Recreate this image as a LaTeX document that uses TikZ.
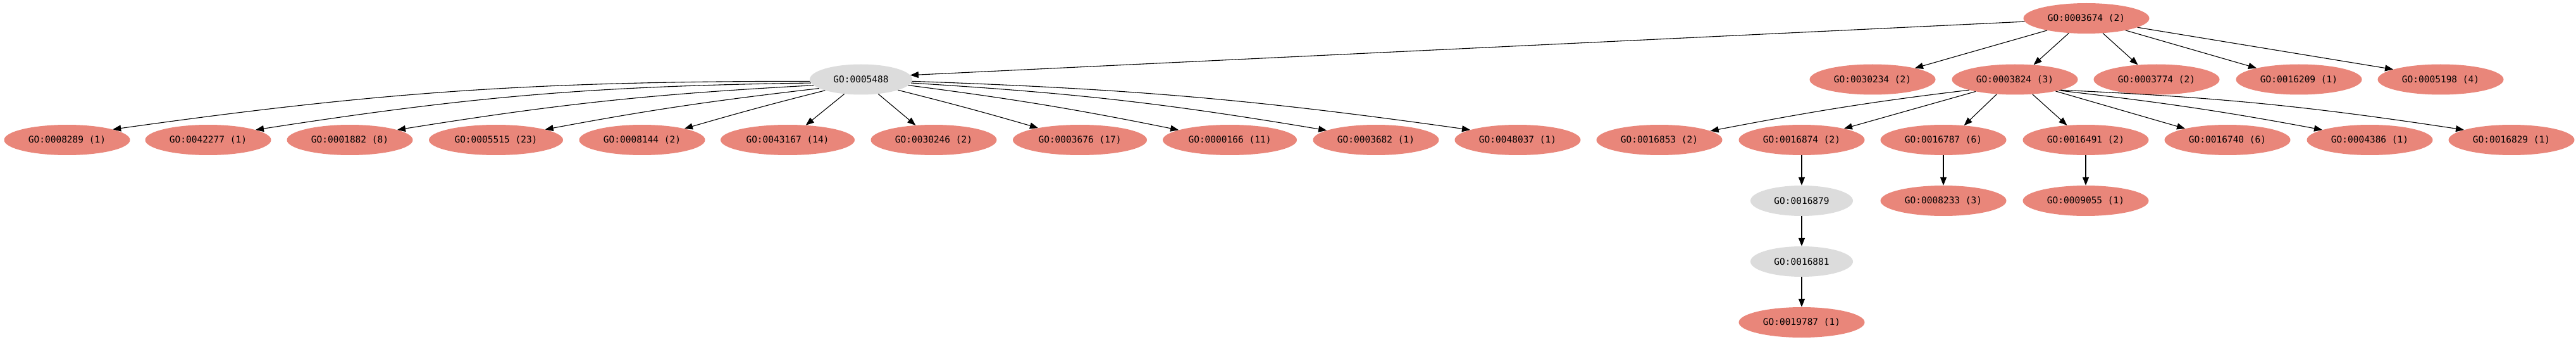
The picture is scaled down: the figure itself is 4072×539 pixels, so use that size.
\documentclass[tikz,border=0pt]{standalone}
\usepackage{fontspec}
\setmonofont{DejaVu Sans Mono}
\usetikzlibrary{shapes.geometric,arrows.meta}
\definecolor{salm}{RGB}{233,134,122}
\definecolor{gnode}{RGB}{220,220,220}
\tikzset{
  base/.style={ellipse,inner sep=0pt,minimum height=48pt,font=\ttfamily\fontsize{14.5}{16}\selectfont,text=black},
  term/.style={base,fill=salm,minimum width=199pt},
  termw/.style={base,fill=salm,minimum width=212pt},
  mid/.style={base,fill=gnode,minimum width=162pt},
  edge/.style={draw=black,line width=1.1pt,-{Triangle[length=13pt,width=10pt]}}
}
\begin{document}
\begin{tikzpicture}[x=1pt,y=1pt]
\useasboundingbox (0,0) rectangle (4072,539);
% row 0
\node[term] (r3674) at (3298,510) {GO:0003674 (2)};
% row 1
\node[mid]  (n5488) at (1361,413.5) {GO:0005488};
\node[term] (n0234) at (2960,413.5) {GO:0030234 (2)};
\node[term] (n3824) at (3185,413.5) {GO:0003824 (3)};
\node[term] (n3774) at (3409,413.5) {GO:0003774 (2)};
\node[term] (n6209) at (3634,413.5) {GO:0016209 (1)};
\node[term] (n5198) at (3858,413.5) {GO:0005198 (4)};
% row 2
\node[term]  (n8289) at (106,318) {GO:0008289 (1)};
\node[term]  (n2277) at (329,318) {GO:0042277 (1)};
\node[term]  (n1882) at (553,318) {GO:0001882 (8)};
\node[termw] (n5515) at (784,318) {GO:0005515 (23)};
\node[term]  (n8144) at (1015,318) {GO:0008144 (2)};
\node[termw] (n3167) at (1245,318) {GO:0043167 (14)};
\node[term]  (n0246) at (1476,318) {GO:0030246 (2)};
\node[termw] (n3676) at (1707,318) {GO:0003676 (17)};
\node[termw] (n0166) at (1944,318) {GO:0000166 (11)};
\node[term]  (n3682) at (2175,318) {GO:0003682 (1)};
\node[term]  (n8037) at (2399,318) {GO:0048037 (1)};
\node[term]  (n6853) at (2623,318) {GO:0016853 (2)};
\node[term]  (n6874) at (2848,318) {GO:0016874 (2)};
\node[term]  (n6787) at (3072,318) {GO:0016787 (6)};
\node[term]  (n6491) at (3297,318) {GO:0016491 (2)};
\node[term]  (n6740) at (3521,318) {GO:0016740 (6)};
\node[term]  (n4386) at (3746,318) {GO:0004386 (1)};
\node[term]  (n6829) at (3970,318) {GO:0016829 (1)};
% row 3
\node[mid]  (g6879) at (2848,222) {GO:0016879};
\node[term] (n8233) at (3072,222) {GO:0008233 (3)};
\node[term] (n9055) at (3297,222) {GO:0009055 (1)};
% row 4
\node[mid]  (g6881) at (2848,126) {GO:0016881};
% row 5
\node[term] (n9787) at (2848,30) {GO:0019787 (1)};

% edges from root
\draw[edge] (r3674.183) -- (n5488.5);
\draw[edge] (r3674.197) -- (n0234.15);
\draw[edge] (r3674.220) -- (n3824.38);
\draw[edge] (r3674.318) -- (n3774.142);
\draw[edge] (r3674.343) -- (n6209.165);
\draw[edge] (r3674.350) -- (n5198.168);
% edges from GO:0005488
\draw[edge] (n5488.182) .. controls +(180:432) and +(8:432) .. (n8289.13);
\draw[edge] (n5488.184) .. controls +(180.8:346) and +(8.8:346) .. (n2277.12);
\draw[edge] (n5488.187) .. controls +(183.1:259) and +(9.1:259) .. (n1882.12);
\draw[edge] (n5488.192) .. controls +(186.6:170) and +(10.6:170) .. (n5515.12);
\draw[edge] (n5488.197) .. controls +(194.1:90) and +(16.1:90) .. (n8144.15);
\draw[edge] (n5488.221) -- (n3167.39);
\draw[edge] (n5488.320) -- (n0246.141);
\draw[edge] (n5488.344) .. controls +(345.9:90) and +(163.9:90) .. (n3676.164);
\draw[edge] (n5488.353) .. controls +(352.6:169) and +(168.6:169) .. (n0166.169);
\draw[edge] (n5488.356) .. controls +(356.5:260) and +(170.5:260) .. (n3682.169);
\draw[edge] (n5488.358) .. controls +(358:347) and +(172:347) .. (n8037.168);
% edges from GO:0003824
\draw[edge] (n3824.193) .. controls +(186.8:161) and +(10.8:161) .. (n6853.10);
\draw[edge] (n3824.197) -- (n6874.15);
\draw[edge] (n3824.219) -- (n6787.35);
\draw[edge] (n3824.320) -- (n6491.142);
\draw[edge] (n3824.344) -- (n6740.165);
\draw[edge] (n3824.346) .. controls +(353.4:163) and +(169.4:163) .. (n4386.168);
\draw[edge] (n3824.347) .. controls +(357.4:250) and +(171.4:250) .. (n6829.168);
% vertical chains
\draw[edge] (n6874) -- (g6879);
\draw[edge] (g6879) -- (g6881);
\draw[edge] (g6881) -- (n9787);
\draw[edge] (n6787) -- (n8233);
\draw[edge] (n6491) -- (n9055);
\end{tikzpicture}
\end{document}
